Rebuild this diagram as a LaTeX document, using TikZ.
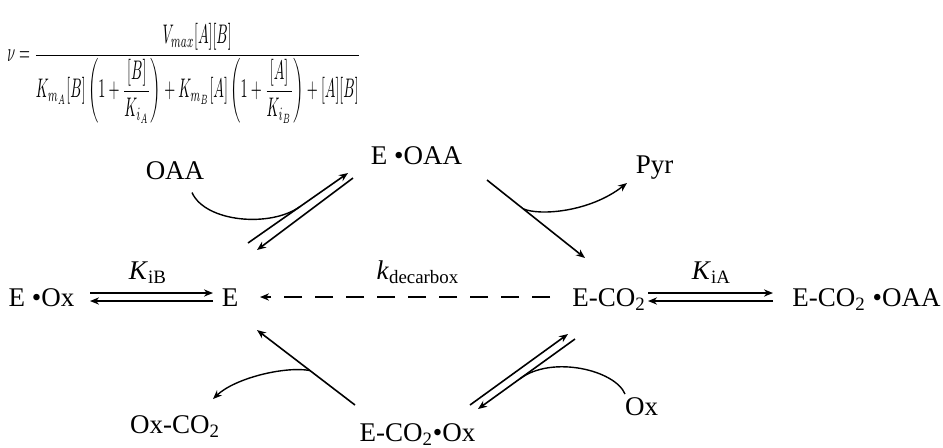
\documentclass[tikz,border=0pt]{standalone}
\usepackage{amsmath}
\usepackage{graphicx}
\usepackage{fontspec}
\setmainfont{Liberation Serif}
\usetikzlibrary{arrows.meta,calc}

\tikzset{
  species/.style={inner sep=0pt, text height=9pt, text depth=0pt, font=\fontsize{13.5}{16}\selectfont},
  ratelabel/.style={inner sep=0pt, text height=9pt, text depth=0pt, font=\fontsize{13.5}{16}\selectfont},
  rxn/.style={line width=0.8pt, -{Stealth[length=4.5pt,width=3.6pt]}},
  side/.style={line width=0.7pt},
}

\begin{document}
\begin{tikzpicture}[x=0.5pt,y=-0.5pt]
        \useasboundingbox (0,0) rectangle (943,447);
        % Rate equation
        \node[anchor=north west, inner sep=0pt] (rateeq) at (7,23) {\resizebox*{176.5pt}{50pt}{$\displaystyle \nu=\frac{V_{max}[A][B]}{K_{m_A}[B]\left(1+\dfrac{[B]}{K_{i_A}}\right)+K_{m_B}[A]\left(1+\dfrac{[A]}{K_{i_B}}\right)+[A][B]}$}};

        % Enzyme species
        \node[species] (eox) at (41.5,297) {E \textbullet Ox};
        \node[species] (e) at (230,297) {E};
        \node[species] (eco2) at (609,297) {E-CO\textsubscript{2}};
        \node[species] (eco2oaa) at (866.5,297) {E-CO\textsubscript{2} \textbullet OAA};
        \node[species] (eoaa) at (416.5,155.5) {E \textbullet OAA};
        \node[species] (eco2ox) at (417.5,432) {E-CO\textsubscript{2}\textbullet Ox};

        % Substrates and products
        \node[species] (oaa) at (175,170.5) {OAA};
        \node[species] (pyr) at (654.5,164) {Pyr};
        \node[species] (oxco2) at (175,424) {Ox-CO\textsubscript{2}};
        \node[species] (ox) at (641.5,406.5) {Ox};

        % Constants
        \node[ratelabel] (kib) at (148,270) {\textit{K}\textsubscript{iB}};
        \node[ratelabel] (kdec) at (418,270) {\textit{k}\textsubscript{decarbox}};
        \node[ratelabel] (kia) at (711.5,270) {\textit{K}\textsubscript{iA}};

        % Horizontal equilibria
        \draw[rxn] ([shift={(48.5,-4)}]eox.center) -- ([shift={(-17,-4)}]e.center);
        \draw[rxn] ([shift={(-17,4)}]e.center) -- ([shift={(48.5,4)}]eox.center);
        \draw[rxn] ([shift={(39,-4)}]eco2.center) -- ([shift={(-93.5,-4)}]eco2oaa.center);
        \draw[rxn] ([shift={(-93.5,4)}]eco2oaa.center) -- ([shift={(39,4)}]eco2.center);
        \draw[rxn, dash pattern=on 9pt off 6.5pt] ([shift={(-59,0)}]eco2.center) -- ([shift={(30,0)}]e.center);

        % OAA binding
        \draw[rxn] ([shift={(18,-54)}]e.center) -- ([shift={(-68.5,17.5)}]eoaa.center) coordinate[pos=0.52] (oaajoin);
        \draw[rxn] ([shift={(-63.5,22.5)}]eoaa.center) -- ([shift={(27,-47)}]e.center);
        \draw[side] ([shift={(17,22)}]oaa.center) .. controls (205,222) and (270,228) .. (oaajoin);

        % Decarboxylation, pyruvate out
        \draw[rxn] ([shift={(70.5,24.5)}]eoaa.center) -- ([shift={(-24,-39)}]eco2.center) coordinate[pos=0.37] (pyrjoin);
        \draw[side, -{Stealth[length=4.5pt,width=3.6pt]}] (pyrjoin) .. controls (540,216) and (590,212) .. ([shift={(-27.5,19)}]pyr.center);

        % Ox binding
        \draw[rxn] ([shift={(52.5,-27)}]eco2ox.center) -- ([shift={(-41,37)}]eco2.center);
        \draw[rxn] ([shift={(-34,42)}]eco2.center) -- ([shift={(60.5,-23)}]eco2ox.center) coordinate[pos=0.567] (oxjoin);
        \draw[side] ([shift={(-16.5,-12.5)}]ox.center) .. controls (615,370) and (552,355) .. (oxjoin);

        % Carboxyl transfer, Ox-CO2 out
        \draw[rxn] ([shift={(-62.5,-27)}]eco2ox.center) -- ([shift={(27,33)}]e.center) coordinate[pos=0.46] (oxco2join);
        \draw[side, -{Stealth[length=4.5pt,width=3.6pt]}] (oxco2join) .. controls (285,366) and (235,378) .. ([shift={(38,-25)}]oxco2.center);
\end{tikzpicture}
\end{document}
